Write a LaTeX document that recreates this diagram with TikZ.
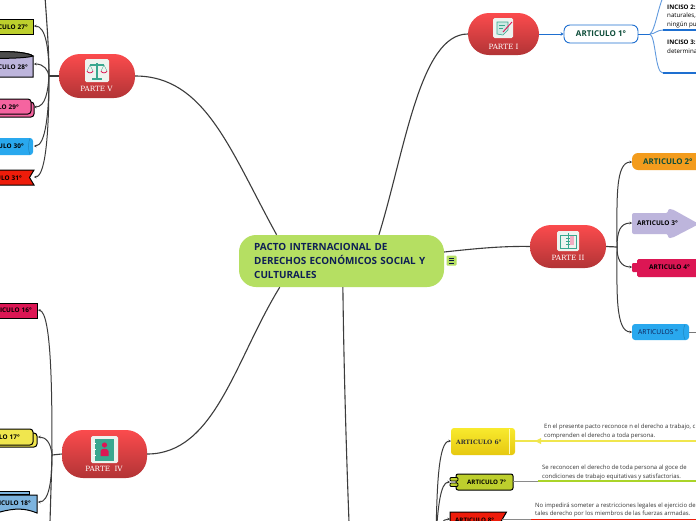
\documentclass[tikz,border=0pt]{standalone}
\usepackage{fontspec}
\setmainfont{Open Sans}
\newfontfamily\slabfont{DejaVu Serif}
\usetikzlibrary{arrows.meta, calc, positioning}
\definecolor{linegray}{HTML}{3C3C3C}
\definecolor{limeroot}{HTML}{B5DF62}
\definecolor{navyroot}{HTML}{0E1F55}
\definecolor{redtop}{HTML}{FB4B4D}
\definecolor{redbot}{HTML}{B23436}
\definecolor{olive}{HTML}{BDCF2D}
\definecolor{lavender}{HTML}{BDB5DC}
\definecolor{pinkleaf}{HTML}{F564A0}
\definecolor{blueleaf}{HTML}{29A8EE}
\definecolor{crimson}{HTML}{DC1654}
\definecolor{yellowleaf}{HTML}{F0E64E}
\definecolor{yellowtop}{HTML}{F8EA2E}
\definecolor{yellowbot}{HTML}{E6C810}
\definecolor{skyleaf}{HTML}{7DB4DF}
\definecolor{redleaf}{HTML}{EE1C0A}
\definecolor{orangeleaf}{HTML}{F39C1D}
\definecolor{bluemain}{HTML}{1E6FD0}
\definecolor{darkgreen}{HTML}{0E4D3A}
\definecolor{teal}{HTML}{3AA78F}
\definecolor{iconbg}{HTML}{EEF3EF}
\definecolor{bodytext}{HTML}{333333}
\tikzset{
  branch/.style={draw=linegray, line width=1pt, -{Stealth[length=2.5pt,width=2.5pt]}},
  trunk/.style={draw=linegray, line width=1.1pt},
  parte/.style={minimum width=#1, rounded corners=21pt, top color=redtop, bottom color=redbot, draw=none, inner sep=0pt},
  partetext/.style={font=\slabfont\fontsize{7.2}{8}\selectfont, text=white, inner sep=0pt},
  leaf/.style={anchor=east, font=\bfseries\fontsize{6.4}{7}\selectfont, text=black, text width=#1, align=right, inner xsep=0pt, inner ysep=0pt, minimum height=6pt},
  rtext/.style={anchor=west, font=\bfseries\fontsize{#1}{8}\selectfont, inner sep=0pt},
  para/.style={anchor=west, font=\fontsize{5.95}{7}\selectfont, text=bodytext, inner sep=0pt},
  inciso/.style={anchor=west, font=\fontsize{6.2}{7}\selectfont, text=black, inner sep=0pt},
  blink/.style={draw=bluemain!70!white, line width=0.9pt},
  bbar/.style={draw=bluemain, line width=1.2pt},
  icon/.style={fill=iconbg, rounded corners=1.5pt},
}
\begin{document}
\begin{tikzpicture}[x=1pt, y=-1pt]
\useasboundingbox (0,0) rectangle (696,520);
\fill[white] (0,0) rectangle (696,520);

% center and the four parts
\node[fill=limeroot, rounded corners=17pt, minimum width=205pt, minimum height=52pt, inner sep=0pt] (center) at (341.5,261) {};
\node[anchor=west, text width=185pt, align=left, inner sep=0pt, text=navyroot, font=\bfseries\fontsize{9.9}{13.6}\selectfont] (title) at (254,261) {PACTO INTERNACIONAL DE\\DERECHOS ECONÓMICOS SOCIAL Y\\CULTURALES};
\node[fill=limeroot, rounded corners=1pt, minimum size=10pt, inner sep=0pt] (menu) at (451.5,260.5) {};
\draw[navyroot!80!black, line width=0.5pt] (449,258) -- (454,258) (449,260.5) -- (454,260.5) (449,263) -- (454,263);

\node[parte=71pt, minimum height=42pt] (p1) at (503.5,34) {};
\node[parte=76pt, minimum height=43pt] (p2) at (568,246.5) {};
\node[parte=76pt, minimum height=44pt] (p5) at (97,76) {};
\node[parte=85pt, minimum height=48pt] (p4) at (104.5,454) {};
\node[partetext] (lp1) at (503.5,46.5) {PARTE I};
\node[partetext] (lp2) at (568,258) {PARTE II};
\node[partetext] (lp5) at (96.5,89) {PARTE V};
\node[partetext] (lp4) at (104,469) {PARTE~ IV};

% icons
\fill[icon] (493,18) rectangle (513,38);
\draw[teal, fill=teal!25, line width=0.6pt] (497,22) -- (508,22) -- (508,30) -- (503,35) -- (497,34) -- cycle;
\draw[teal, line width=0.5pt] (499,25) -- (505,25) (499,28) -- (503,28);
\draw[crimson, line width=0.9pt] (503,32) -- (512,22);
\fill[icon] (557,231) rectangle (579,251);
\draw[teal, line width=0.6pt] (560,235) rectangle (576,248) (568,233) -- (568,249);
\fill[crimson!35] (570,236) rectangle (574,245);
\draw[teal, line width=0.5pt] (566,238) -- (570,238) (566,241) -- (570,241) (566,244) -- (570,244);
\fill[icon] (85,59) rectangle (109,82);
\draw[teal, line width=1.1pt] (97,63) -- (97,78) (90,65) -- (104,65) (92,79) -- (102,79);
\draw[teal, line width=0.4pt] (90,65) -- (87,71) (90,65) -- (93,71) (104,65) -- (101,71) (104,65) -- (107,71);
\draw[crimson, line width=0.8pt] (87,71) .. controls (88,73.5) and (92,73.5) .. (93,71);
\draw[crimson, line width=0.8pt] (101,71) .. controls (102,73.5) and (106,73.5) .. (107,71);
\fill[icon] (91,436) rectangle (118,463);
\fill[teal] (95,439) rectangle (114,461);
\fill[crimson] (104.5,445) circle (2.6pt);
\fill[crimson] (100.5,456) -- (100.5,451) .. controls (101,448) and (108,448) .. (108.5,451) -- (108.5,456) -- cycle;
\draw[white, line width=0.8pt] (93,443) -- (96,443) (93,449) -- (96,449) (93,455) -- (96,455);

% links from the center
\draw[trunk] (center.35.5) .. controls (405,150) and (420,34) .. (p1.west);
\draw[trunk] (center.5) .. controls (480,248) and (505,246) .. (p2.west);
\draw[trunk] (center.158) .. controls (230,150) and (205,76) .. (p5.east);
\draw[trunk] (center.203) .. controls (235,360) and (215,454) .. (p4.east);
\coordinate (downend) at (349,522);
\draw[trunk] (center.-87) .. controls (344,380) and (347,470) .. (downend);

% parte I
\node[draw=bluemain, line width=0.9pt, fill=white, rounded corners=6pt, minimum width=74pt, minimum height=18pt, inner sep=0pt, text=darkgreen, font=\bfseries\fontsize{8}{8}\selectfont] (art1) at (601,34) {ARTICULO 1°};
\draw[draw=bluemain, line width=0.9pt, -{Stealth[length=3pt,width=3.5pt]}] (p1.east) -- (art1.west);
\coordinate (fork1) at (650,34);
\coordinate (inc1) at (663,-3);
\coordinate (inc2) at (663,30);
\coordinate (inc3) at (663,73);
\coordinate (barend2) at (697,30);
\coordinate (barend3) at (697,73);
\draw[bluemain, line width=0.9pt] (art1.east) -- (fork1);
\draw[blink] (fork1) .. controls (655,30) and (657,12) .. (inc1);
\draw[blink] (fork1) .. controls (655,34) and (657,30) .. (inc2);
\draw[blink] (fork1) .. controls (656,38) and (655,73) .. (inc3);
\draw[bbar] (inc2) -- (barend2);
\draw[bbar] (inc3) -- (barend3);
\node[inciso] (i2a) at (667,7.5) {\textbf{INCISO 2:}};
\node[inciso] (i2b) at (667,16) {naturales,};
\node[inciso] (i2c) at (667,25) {ningún pu};
\node[inciso] (i3a) at (667,42.5) {\textbf{INCISO 3:}};
\node[inciso] (i3b) at (667,51) {determina};

% parte II
\coordinate (fork2) at (617,247);
\draw[trunk, line width=1.2pt] (p2.east) -- (fork2);
\fill[orangeleaf, rounded corners=6pt] (632,153) rectangle (710,170);
\node[rtext=7.9, text=darkgreen] (art2) at (643,162) {ARTICULO 2°};
\fill[lavender, rounded corners=2pt] (632,213) -- (668,213) -- (668,209) -- (672,209) -- (699,224) -- (672,238) -- (668,238) -- (668,234) -- (632,234) -- cycle;
\node[rtext=6.5, text=black] (art3) at (637,223.5) {ARTICULO 3°};
\fill[crimson, rounded corners=1.5pt] (637,259) rectangle (705,277);
\fill[crimson, rounded corners=1pt] (632,263) rectangle (640,272);
\node[rtext=6.5, text=black] (art4) at (649,267.5) {ARTICULO 4°};
\fill[blueleaf, rounded corners=3pt] (632,324) rectangle (689,340);
\draw[blueleaf!80!black, line width=0.5pt] (685,324.5) .. controls (683,328) and (683,336) .. (685,339.5);
\node[anchor=west, inner sep=0pt, font=\fontsize{6.7}{7}\selectfont, text=navyroot] (art5) at (638,332) {ARTICULOS °};
\coordinate (art2in) at (632,162);
\coordinate (art3in) at (632,223);
\coordinate (art4in) at (632,267);
\coordinate (art5in) at (632,332);
\coordinate (art5out) at (689,332);
\coordinate (art5end) at (697,332);
\draw[branch] (fork2) .. controls (617,200) and (615,162) .. (art2in);
\draw[branch] (fork2) .. controls (617,232) and (620,223) .. (art3in);
\draw[branch] (fork2) .. controls (617,258) and (620,267) .. (art4in);
\draw[branch] (fork2) .. controls (617,290) and (615,332) .. (art5in);
\draw[linegray!70, line width=0.7pt] (art5out) -- (art5end);

% parte V
\coordinate (fork5) at (49,76);
\coordinate (topend) at (45,-3);
\draw[trunk] (p5.west) -- (fork5);
\draw[trunk] (fork5) .. controls (49,50) and (47,25) .. (topend);
\draw[black, line width=1pt, fill=olive] (-30,19) rectangle (33,34);
\node[leaf=60pt] (art27) at (28,27) {ARTICULO 27°};
\draw[black, line width=1pt, fill=lavender] (-30,57) .. controls (-20,50) and (25,50) .. (33,56) -- (33,77) -- (-30,77) -- cycle;
\draw[black, line width=1pt, fill=black!70] (-30,57) .. controls (-20,50) and (25,50) .. (33,56) .. controls (25,59) and (-20,59) .. cycle;
\node[leaf=60pt] (art28) at (28,67.5) {ARTICULO 28°};
\draw[black, line width=1pt, fill=pinkleaf, rounded corners=3pt] (-30,102) rectangle (34,117);
\draw[black, line width=1pt, fill=pinkleaf, rounded corners=3pt] (-30,99) rectangle (31,114);
\node[leaf=60pt] (art29) at (19,107) {ARTICULO 29°};
\fill[blueleaf, rounded corners=3pt] (-30,138) rectangle (33,155);
\draw[blueleaf!80!black, line width=0.5pt] (30,138.5) .. controls (28,142) and (28,151) .. (30,154.5);
\node[leaf=60pt] (art30) at (24,146.5) {ARTICULO 30°};
\draw[black, line width=1pt, fill=redleaf] (-30,170) -- (34,170) -- (29.5,177.5) -- (34,185) -- (-30,185) -- cycle;
\node[leaf=60pt] (art31) at (22,178) {ARTICULO 31°};
\coordinate (art27out) at (34,26);
\coordinate (art28out) at (34,64);
\coordinate (art29out) at (34,107);
\coordinate (art30out) at (34,146);
\coordinate (art31out) at (34,177);
\draw[branch] (fork5) .. controls (49,50) and (46,26) .. (art27out);
\draw[branch] (fork5) .. controls (48,70) and (44,64) .. (art28out);
\draw[branch] (fork5) .. controls (48,90) and (46,107) .. (art29out);
\draw[branch] (fork5) .. controls (49,110) and (46,146) .. (art30out);
\draw[branch] (fork5) .. controls (49,120) and (47,177) .. (art31out);

% parte IV
\coordinate (fork4) at (52,455);
\coordinate (bottomend) at (50,522);
\draw[trunk] (p4.west) -- (fork4);
\draw[trunk] (fork4) -- (bottomend);
\draw[black, line width=1pt, fill=crimson] (-30,303) rectangle (37,318);
\node[leaf=60pt] (art16) at (32,310) {ARTICULO 16°};
\draw[black, line width=1pt, fill=yellowleaf, rounded corners=3pt] (-30,433) rectangle (37,447);
\draw[black, line width=1pt, fill=yellowleaf, rounded corners=3pt] (-30,429) rectangle (33,445);
\node[leaf=60pt] (art17) at (20,437) {ARTICULO 17°};
\draw[black, line width=0.8pt, fill=skyleaf] (-30,491) -- (29,491) -- (29,494) -- (-30,494) -- cycle;
\draw[black, line width=1pt, fill=skyleaf] (-30,495) -- (37,495) -- (37,513) .. controls (25,508) and (15,508) .. (0,512) -- (-30,512) -- cycle;
\node[leaf=60pt] (art18) at (31,503) {ARTICULO 18°};
\coordinate (art16out) at (38,310);
\coordinate (art17out) at (38,437);
\coordinate (art18out) at (38,502);
\draw[branch] (fork4) .. controls (52,400) and (52,312) .. (art16out);
\draw[branch] (fork4) .. controls (51,443) and (46,437) .. (art17out);
\draw[branch] (fork4) .. controls (52,480) and (49,502) .. (art18out);

% parte III
\coordinate (fork3) at (436,535);
\coordinate (art6in) at (451,441);
\coordinate (art7in) at (450,482);
\coordinate (art8in) at (450,519);
\draw[branch] (fork3) .. controls (437,490) and (438,441) .. (art6in);
\draw[branch] (fork3) .. controls (438,510) and (440,482) .. (art7in);
\draw[branch] (fork3) .. controls (439,526) and (442,519) .. (art8in);

\shade[top color=yellowtop, bottom color=yellowbot, rounded corners=3pt] (451,428) rectangle (515,455);
\draw[white!70!yellow, line width=0.5pt] (509,429) -- (509,454);
\node[anchor=west, inner sep=0pt, font=\slabfont\bfseries\fontsize{6}{6}\selectfont, text=black!80] (art6) at (456,442.5) {ARTICULO 6°};
\coordinate (art6out) at (515,441);
\coordinate (art6end) at (697,441);
\draw[yellowleaf, line width=1.1pt] (art6out) -- (art6end);
\fill[yellowleaf] (535,441) -- (541,438) -- (541,444) -- cycle;
\node[para] (t6a) at (544,427) {En el presente pacto reconoce n el derecho a trabajo, c};
\node[para] (t6b) at (544,436) {comprenden el derecho a toda persona.};

\draw[black, line width=1pt, fill=olive, rounded corners=2pt] (456,474) rectangle (513,490);
\draw[black, line width=0.8pt, fill=olive, rounded corners=1pt] (450,477.5) rectangle (458,481);
\draw[black, line width=0.8pt, fill=olive, rounded corners=1pt] (450,483) rectangle (458,486.5);
\node[rtext=6.2, text=black] (art7) at (467,482) {ARTICULO 7°};
\coordinate (art7out) at (513,481);
\coordinate (art7mid) at (538,481);
\coordinate (art7end) at (697,481);
\draw[linegray!60, line width=0.7pt] (art7out) -- (art7mid);
\draw[olive!90!green, line width=1.1pt] (art7mid) -- (art7end);
\node[para] (t7a) at (542,468) {Se reconocen el derecho de toda persona al goce de};
\node[para] (t7b) at (542,476.5) {condiciones de trabajo equitativas y satisfactorias.};

\draw[black, line width=1pt, fill=redleaf] (450,512) -- (506.5,512) -- (499,525) -- (450,525) -- cycle;
\node[rtext=6.2, text=black] (art8) at (455,520) {ARTICULO 8°};
\coordinate (art8out) at (502,519.5);
\coordinate (art8mid) at (531,519.5);
\coordinate (art8end) at (697,519.5);
\draw[linegray!60, line width=0.7pt] (art8out) -- (art8mid);
\draw[redleaf, line width=1.1pt] (art8mid) -- (art8end);
\node[para] (t8a) at (535,506) {No impedirá someter a restricciones legales el ejercicio de};
\node[para] (t8b) at (535,514) {tales derecho por los miembros de las fuerzas armadas.};
\end{tikzpicture}
\end{document}
